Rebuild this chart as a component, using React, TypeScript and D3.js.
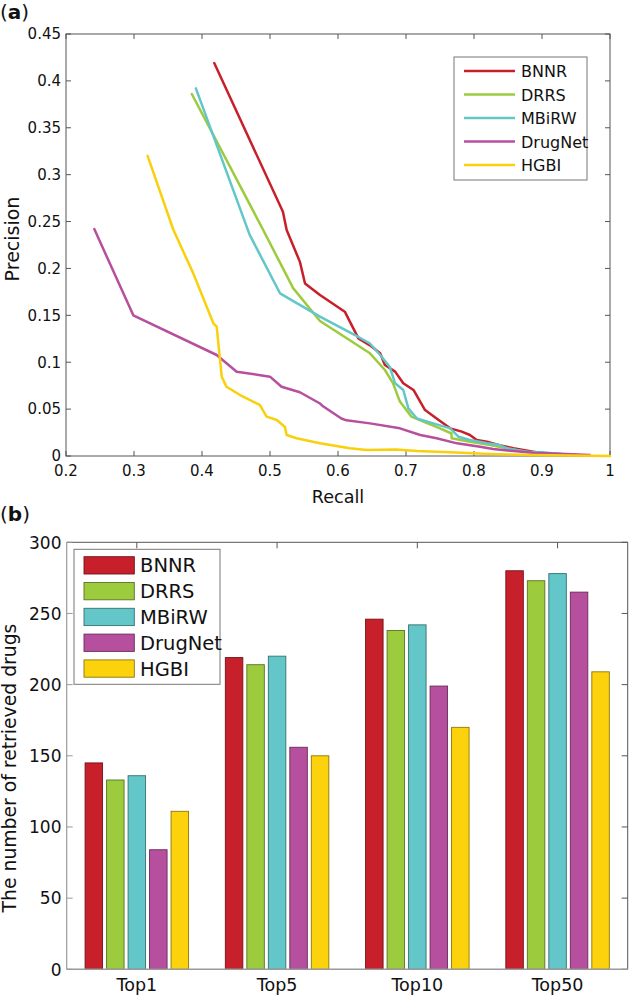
import React from 'react';
import * as d3 from 'd3';

type Pt = [number, number];

// ---------- (a) precision-recall data ----------
const curveNames = ['BNNR', 'DRRS', 'MBiRW', 'DrugNet', 'HGBI'];

const bnnrCurve: Pt[] = [
  [0.418, 0.419], [0.519, 0.2605], [0.5245, 0.241], [0.544, 0.207], [0.5515, 0.184],
  [0.5735, 0.1717], [0.61, 0.1539], [0.63, 0.1255], [0.647, 0.118], [0.662, 0.1095],
  [0.669, 0.097], [0.684, 0.09], [0.696, 0.0775], [0.711, 0.0704], [0.728, 0.049],
  [0.745, 0.04], [0.765, 0.0295], [0.782, 0.026], [0.794, 0.0224], [0.804, 0.017],
  [0.819, 0.0153], [0.836, 0.0117], [0.858, 0.0082], [0.887, 0.0046], [0.9, 0.003],
  [0.95, 0.001],
];
const drrsCurve: Pt[] = [
  [0.385, 0.386], [0.49, 0.241], [0.534, 0.179], [0.5735, 0.144], [0.647, 0.1095],
  [0.669, 0.0917], [0.681, 0.0775], [0.691, 0.058], [0.708, 0.042], [0.7255, 0.0366],
  [0.75, 0.0295], [0.767, 0.024], [0.767, 0.0189], [0.794, 0.0153], [0.824, 0.0117],
  [0.864, 0.006], [0.887, 0.0035], [0.92, 0.002],
];
const mbirwCurve: Pt[] = [
  [0.391, 0.392], [0.47, 0.236], [0.5147, 0.1735], [0.5735, 0.1486], [0.625, 0.129],
  [0.647, 0.12], [0.662, 0.1077], [0.676, 0.0952], [0.684, 0.0775], [0.696, 0.0704],
  [0.7035, 0.0508], [0.716, 0.04], [0.74, 0.0348], [0.765, 0.0295], [0.777, 0.0206],
  [0.794, 0.017], [0.819, 0.0135], [0.838, 0.0117], [0.848, 0.0082], [0.877, 0.0046],
  [0.9, 0.004], [0.93, 0.002],
];
const drugnetCurve: Pt[] = [
  [0.2416, 0.242], [0.299, 0.15], [0.4216, 0.1077], [0.451, 0.0899], [0.5, 0.0846],
  [0.517, 0.0739], [0.544, 0.068], [0.5735, 0.056], [0.578, 0.053], [0.605, 0.04],
  [0.6125, 0.038], [0.647, 0.0348], [0.691, 0.0295], [0.721, 0.0224], [0.745, 0.0189],
  [0.775, 0.0135], [0.809, 0.0099], [0.828, 0.0075], [0.858, 0.0053], [0.887, 0.0035],
  [0.936, 0.0021], [0.97, 0.001],
];
const hgbiCurve: Pt[] = [
  [0.32, 0.32], [0.358, 0.241], [0.387, 0.195], [0.4167, 0.1415], [0.4216, 0.138],
  [0.429, 0.0846], [0.436, 0.0739], [0.456, 0.065], [0.485, 0.0544], [0.495, 0.042],
  [0.51, 0.0384], [0.522, 0.031], [0.5245, 0.0224], [0.539, 0.0189], [0.5735, 0.0135],
  [0.6175, 0.0082], [0.642, 0.0064], [0.686, 0.007], [0.716, 0.0053], [0.765, 0.0039],
  [0.814, 0.0025], [0.838, 0.0018], [0.887, 0.001], [1.0, 0.0],
];
const curves = [bnnrCurve, drrsCurve, mbirwCurve, drugnetCurve, hgbiCurve];

const recallTicks = [0.2, 0.3, 0.4, 0.5, 0.6, 0.7, 0.8, 0.9, 1];
const precisionTicks = [0, 0.05, 0.1, 0.15, 0.2, 0.25, 0.3, 0.35, 0.4, 0.45];

// ---------- (b) bar data ----------
const barCategories = ['Top1', 'Top5', 'Top10', 'Top50'];
const bnnrBars = [145, 219, 246, 280];
const drrsBars = [133, 214, 238, 273];
const mbirwBars = [136, 220, 242, 278];
const drugnetBars = [84, 156, 199, 265];
const hgbiBars = [111, 150, 170, 209];
const barSeries = [bnnrBars, drrsBars, mbirwBars, drugnetBars, hgbiBars];
const countTicks = [0, 50, 100, 150, 200, 250, 300];

const lineColors = ['#c8202a', '#9dcb3e', '#63c6c8', '#b64f9d', '#f9d00c'];
const barColors = ['#c8202a', '#9dcb3e', '#63c6c8', '#b64f9d', '#fcd20c'];

const FONT = '"DejaVu Sans", "Liberation Sans", Arial, sans-serif';
const AX = '#555';

const fmt = (v: number) => String(+v.toFixed(2));

export default function App() {
  // ---- panel a ----
  const xA = d3.scaleLinear().domain([0.2, 1]).range([66, 610]);
  const yA = d3.scaleLinear().domain([0, 0.45]).range([456, 34]);
  const line = d3.line<Pt>().x(d => xA(d[0])).y(d => yA(d[1]));

  // ---- panel b ----
  const x0 = d3.scaleBand<string>().domain(barCategories).range([66.7, 627.7]).padding(0);
  const bw = x0.bandwidth();
  const x1 = d3
    .scaleBand<string>()
    .domain(curveNames)
    .range([bw * 0.1168, bw * 0.8832])
    .paddingInner(0.186)
    .paddingOuter(0.093);
  const yB = d3.scaleLinear().domain([0, 300]).range([969.3, 542.3]);

  const aL = xA.range()[0], aR = xA.range()[1], aT = yA.range()[1], aB = yA.range()[0];
  const bL = 66.7, bR = 627.7, bT = yB(300), bB = yB(0);

  return (
    <svg
      width={629}
      height={997}
      style={{ position: 'absolute', left: 0, top: 0, background: '#fff' }}
      fontFamily={FONT}
    >
      <rect x={0} y={0} width={629} height={997} fill="#fff" />

      {/* ===== (a) ===== */}
      <text x={0} y={19} fontSize={20} fill="#111">
        (<tspan fontWeight="bold">a</tspan>)
      </text>

      {/* axes box */}
      <rect x={aL} y={aT} width={aR - aL} height={aB - aT} fill="none" stroke={AX} strokeWidth={1} />
      {recallTicks.map(t => (
        <g key={'xt' + t}>
          <line x1={xA(t)} x2={xA(t)} y1={aB} y2={aB - 5} stroke={AX} />
          <line x1={xA(t)} x2={xA(t)} y1={aT} y2={aT + 5} stroke={AX} />
          <text x={xA(t)} y={476} fontSize={15} textAnchor="middle" fill="#111">
            {fmt(t)}
          </text>
        </g>
      ))}
      {precisionTicks.map(t => (
        <g key={'yt' + t}>
          <line x1={aL} x2={aL + 5} y1={yA(t)} y2={yA(t)} stroke={AX} />
          <line x1={aR} x2={aR - 5} y1={yA(t)} y2={yA(t)} stroke={AX} />
          <text x={61} y={yA(t) + 5.3} fontSize={15} textAnchor="end" fill="#111">
            {fmt(t)}
          </text>
        </g>
      ))}

      {/* curves */}
      {curves.map((c, i) => (
        <path
          key={'c' + i}
          d={line(c) || ''}
          fill="none"
          stroke={lineColors[i]}
          strokeWidth={2.5}
          strokeLinejoin="round"
          strokeLinecap="round"
        />
      ))}

      <text x={(aL + aR) / 2} y={503} fontSize={17.6} textAnchor="middle" fill="#111">
        Recall
      </text>
      <text
        transform={`translate(18.5,${(aT + aB) / 2 - 6}) rotate(-90)`}
        fontSize={19}
        textAnchor="middle"
        fill="#111"
      >
        Precision
      </text>

      {/* legend a */}
      <rect x={454} y={57} width={133} height={123} fill="#fff" stroke="#777" strokeWidth={1} />
      {curveNames.map((n, i) => {
        const yy = 71 + i * 23.5;
        return (
          <g key={'la' + n}>
            <line x1={464} x2={515} y1={yy} y2={yy} stroke={lineColors[i]} strokeWidth={2.5} />
            <text x={521} y={yy + 6} fontSize={16} fill="#111">
              {n}
            </text>
          </g>
        );
      })}

      {/* ===== (b) ===== */}
      <text x={0} y={521} fontSize={20} fill="#111">
        (<tspan fontWeight="bold">b</tspan>)
      </text>

      {/* box lines */}
      <line x1={bL} x2={bR} y1={bT} y2={bT} stroke={AX} />
      <line x1={bR} x2={bR} y1={bT} y2={bB} stroke={AX} />
      <line x1={bL} x2={bL} y1={bT} y2={bB} stroke="#999" strokeWidth={1.2} />

      {countTicks.map(t => (
        <g key={'ct' + t}>
          <line x1={bR} x2={bR - 6} y1={yB(t)} y2={yB(t)} stroke={AX} />
          <line x1={bL} x2={bL + 6} y1={yB(t)} y2={yB(t)} stroke="#999" />
          <text x={61.5} y={yB(t) + 6.2} fontSize={17} textAnchor="end" fill="#111">
            {t}
          </text>
        </g>
      ))}
      {barCategories.map(c => (
        <g key={'bt' + c}>
          <line
            x1={(x0(c) || 0) + bw / 2}
            x2={(x0(c) || 0) + bw / 2}
            y1={bT}
            y2={bT + 6}
            stroke={AX}
          />
          <text x={(x0(c) || 0) + bw / 2} y={991} fontSize={17.5} textAnchor="middle" fill="#111">
            {c}
          </text>
        </g>
      ))}

      {/* bars */}
      {barSeries.map((vals, si) =>
        vals.map((v, ci) => {
          const cx = (x0(barCategories[ci]) || 0) + (x1(curveNames[si]) || 0);
          return (
            <rect
              key={'b' + si + '-' + ci}
              x={cx}
              y={yB(v)}
              width={x1.bandwidth()}
              height={yB(0) - yB(v)}
              fill={barColors[si]}
              stroke={d3.color(barColors[si])!.darker(1.6).formatHex()}
              strokeWidth={0.9}
            />
          );
        })
      )}

      <line x1={bL} x2={bR} y1={bB} y2={bB} stroke="#9a9a9a" strokeWidth={1.6} />

      <text
        transform={`translate(16,768) rotate(-90)`}
        fontSize={18.8}
        textAnchor="middle"
        fill="#111"
      >
        The number of retrieved drugs
      </text>

      {/* legend b */}
      <rect x={74} y={549.3} width={146} height={135} fill="#fff" stroke="#777" strokeWidth={1} />
      {curveNames.map((n, i) => {
        const yy = 565.3 + i * 25.8;
        return (
          <g key={'lb' + n}>
            <rect
              x={84}
              y={yy - 8.6}
              width={50.3}
              height={17.3}
              fill={barColors[i]}
              stroke={d3.color(barColors[i])!.darker(1.6).formatHex()}
              strokeWidth={0.9}
            />
            <text x={140} y={yy + 7} fontSize={19.5} fill="#111">
              {n}
            </text>
          </g>
        );
      })}
    </svg>
  );
}
